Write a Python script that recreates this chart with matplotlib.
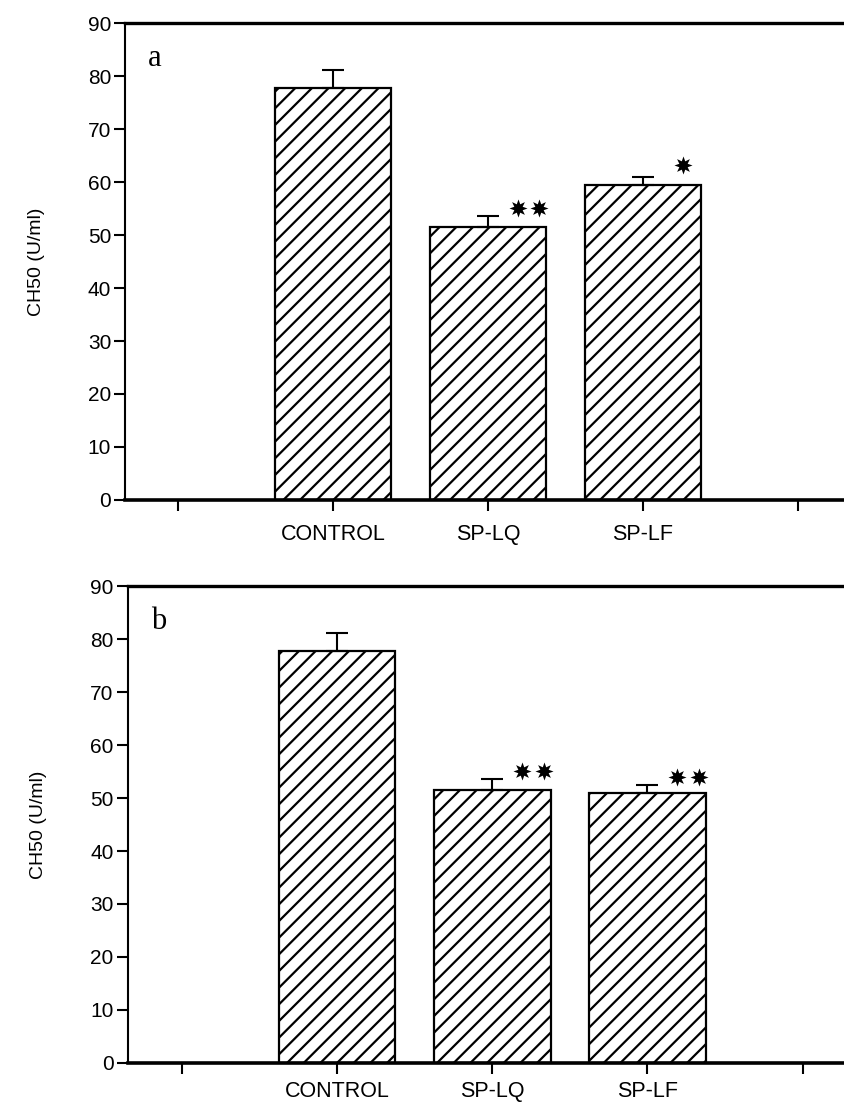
import matplotlib
matplotlib.use("Agg")
import matplotlib.pyplot as plt
import numpy as np

categories = ["CONTROL", "SP-LQ", "SP-LF"]
values_a = [77.8, 51.6, 59.4]
errors_a = [3.4, 2.0, 1.6]
stars_a = [0, 2, 1]
values_b = [77.8, 51.6, 50.9]
errors_b = [3.4, 2.0, 1.5]
stars_b = [0, 2, 2]
yticks = [0, 10, 20, 30, 40, 50, 60, 70, 80, 90]
ylabel = "CH50 (U/ml)"
panels = [("a", values_a, errors_a, stars_a), ("b", values_b, errors_b, stars_b)]

plt.rcParams['font.family'] = ['Liberation Sans', 'DejaVu Sans']
plt.rcParams['hatch.linewidth'] = 1.6

fig = plt.figure(figsize=(8.45, 11.06), dpi=100)
rects = [[0.148, 0.548, 0.852, 0.431], [0.151, 0.039, 0.849, 0.431]]
xlims = [(-1.342, 3.303), (-1.352, 3.274)]
xpads = [9, 5]

for (lab, vals, errs, stars), rect, xl, xp in zip(panels, rects, xlims, xpads):
    ax = fig.add_axes(rect)
    x = np.arange(len(categories))
    ax.bar(x, vals, width=0.75, color="white", edgecolor="black", hatch="//", linewidth=1.6, zorder=2)
    ax.errorbar(x, vals, yerr=[np.zeros(len(errs)), errs], fmt="none", ecolor="black",
                elinewidth=1.5, capsize=8, capthick=1.5, zorder=3)
    for xi, v, e, n in zip(x, vals, errs, stars):
        if n == 0:
            continue
        offs = [0.26] if n == 1 else [0.19, 0.33]
        dy = 2.3 if n == 1 else 1.5
        for o in offs:
            ax.plot(xi + o, v + e + dy, marker=(8, 1, 0), markersize=13, color="black",
                    markeredgewidth=0, zorder=4, clip_on=False)
    ax.set_ylim(0, 90)
    ax.set_xlim(*xl)
    ax.set_yticks(yticks)
    ax.set_xticks([-1, 0, 1, 2, 3])
    ax.set_xticklabels(["", *categories, ""])
    ax.tick_params(axis="both", direction="out", length=8, width=1.5, labelsize=15, colors="black")
    ax.tick_params(axis="x", pad=xp, labelsize=15.5)
    ax.tick_params(axis="y", pad=2)
    ax.spines["right"].set_visible(False)
    ax.spines["top"].set_linewidth(2.4)
    ax.spines["bottom"].set_linewidth(2.6)
    ax.spines["left"].set_linewidth(1.5)
    ax.set_ylabel(ylabel, fontsize=14, labelpad=31)
    ax.text(0.032, 0.925, lab, transform=ax.transAxes, fontsize=22, family="Liberation Serif",
            va="center", ha="left")

fig.savefig("out.png", dpi=100)
